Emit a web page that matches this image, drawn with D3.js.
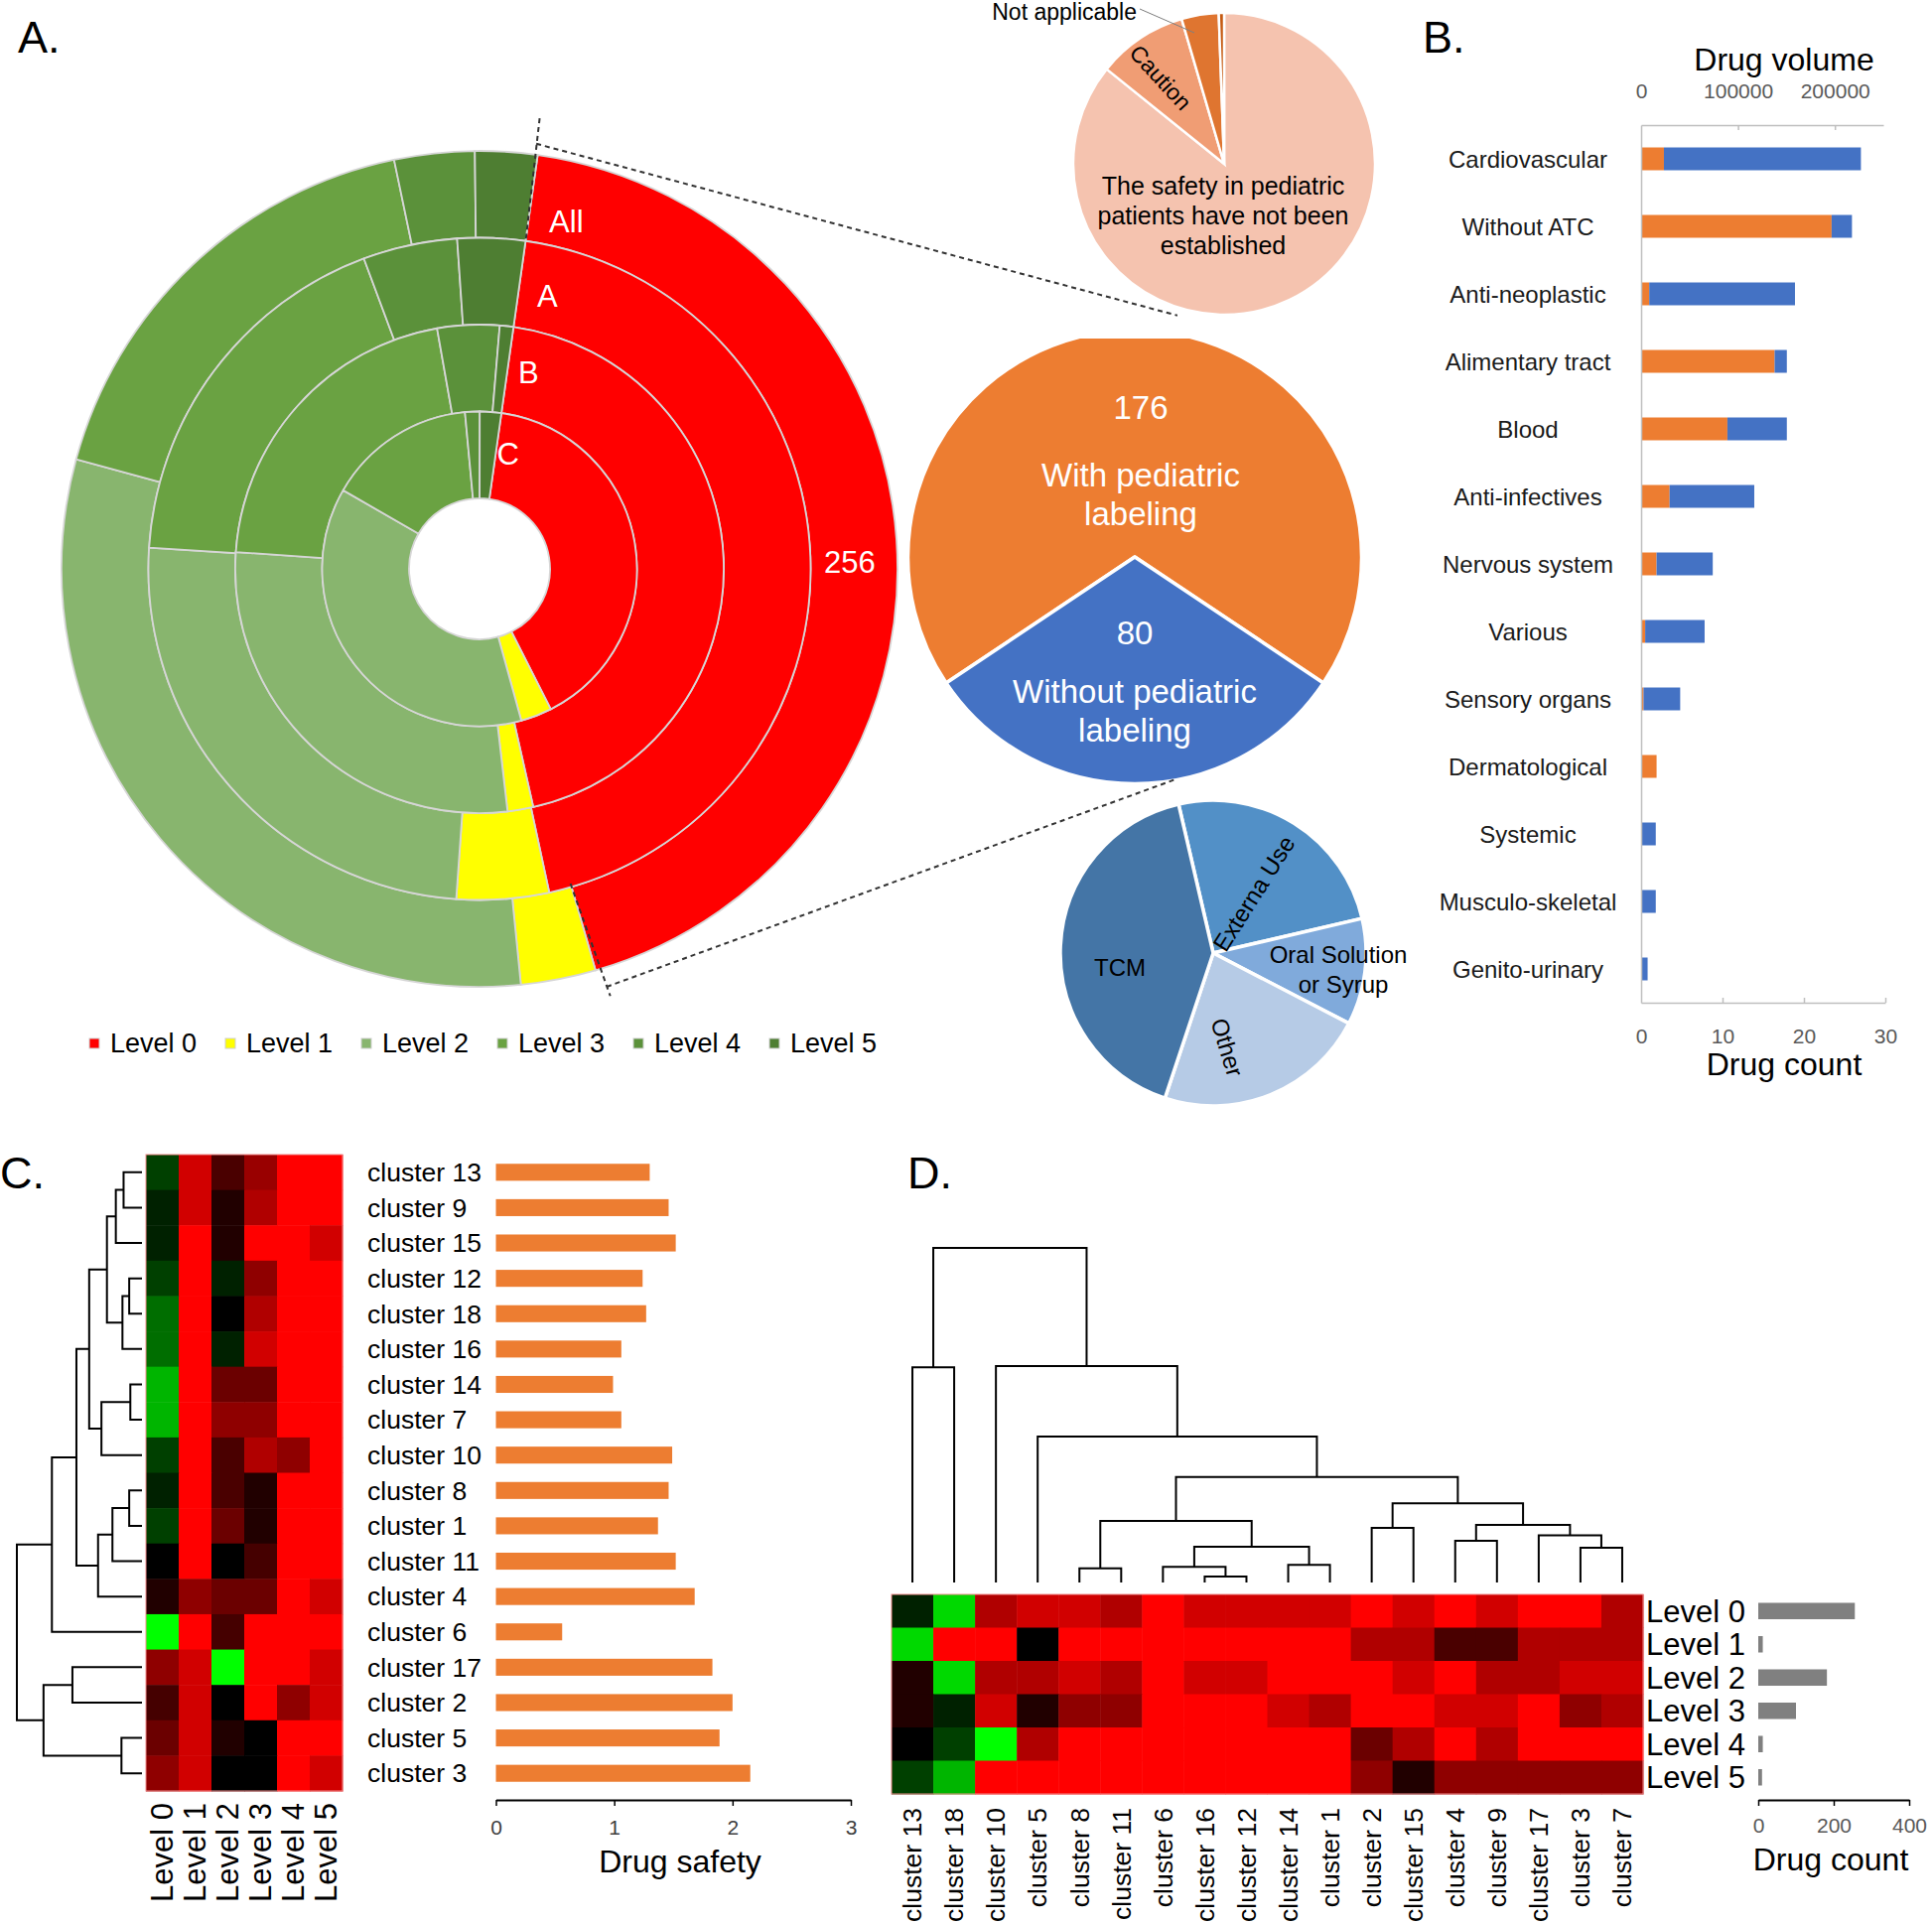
<!DOCTYPE html>
<html><head><meta charset="utf-8">
<script src="https://cdn.jsdelivr.net/npm/d3@7"></script>
<style>
html,body{margin:0;padding:0;background:#fff;}
svg{display:block;font-family:"Liberation Sans",Arial,sans-serif;}
</style></head><body>
<svg id="chart" width="1946" height="1938"></svg>
<script>
// ---------------- DATA ----------------
const levels = ["Level 0","Level 1","Level 2","Level 3","Level 4","Level 5"];
const levelColors = ["#FF0000","#FFFF00","#88B56E","#6AA242","#5B913A","#4E7E32"];
// Sunburst rings (share of drugs per level, %)
const ringNames = ["All","A","B","C"];
const ringAll = [43.3, 2.9, 30.8, 17.5, 3.1, 2.4];
const ringA   = [44.4, 4.5, 24.9, 18.3, 4.6, 3.3];
const ringB   = [44.2, 1.7, 27.9, 21.1, 4.1, 0.9];
const ringC   = [40.3, 3.2, 37.6, 15.2, 1.5, 2.2];
const level0Total = 256;

// Pediatric labeling pie
const labelingNames = ["With pediatric labeling","Without pediatric labeling"];
const labelingValues = [176, 80];
const labelingColors = ["#ED7D31","#4472C4"];

// Safety statement pie (drugs with pediatric labeling)
const safetyNames = ["The safety in pediatric patients have not been established","Caution","Not applicable","Other"];
const safetyValues = [151, 17, 7, 1];
const safetyColors = ["#F5C3AF","#F09D74","#DF7530","#C55A11"];

// Dosage form pie (drugs without pediatric labeling)
const formNames = ["Externa Use","Oral Solution or Syrup","Other","TCM"];
const formValues = [20, 9, 18, 33];
const formColors = ["#5290C7","#80AADB","#B6CBE6","#4475A6"];

// Panel B
const atcCategories = ["Cardiovascular","Without ATC","Anti-neoplastic","Alimentary tract","Blood","Anti-infectives","Nervous system","Various","Sensory organs","Dermatological","Systemic","Musculo-skeletal","Genito-urinary"];
const atcOrange = [2.8, 23.4, 1.0, 16.4, 10.6, 3.5, 1.9, 0.5, 0.3, 1.9, 0, 0, 0];
const atcBlue   = [24.2, 2.5, 17.9, 1.5, 7.3, 10.4, 6.9, 7.3, 4.5, 0, 1.8, 1.8, 0.8];
const volumeTicks = [0, 100000, 200000];
const countTicks = [0, 10, 20, 30];

// Panel C
const clustersC = ["cluster 13","cluster 9","cluster 15","cluster 12","cluster 18","cluster 16","cluster 14","cluster 7","cluster 10","cluster 8","cluster 1","cluster 11","cluster 4","cluster 6","cluster 17","cluster 2","cluster 5","cluster 3"];
const heatC = [
 [-0.25,0.82,0.29,0.60,1,1],
 [-0.13,0.82,0.13,0.69,1,1],
 [-0.13,1,0.13,1,1,0.82],
 [-0.25,1,-0.13,0.56,1,1],
 [-0.43,1,0,0.69,1,1],
 [-0.43,1,-0.13,0.82,1,1],
 [-0.71,1,0.42,0.42,1,1],
 [-0.71,1,0.56,0.56,1,1],
 [-0.25,1,0.29,0.69,0.56,1],
 [-0.13,1,0.29,0.13,1,1],
 [-0.25,1,0.42,0.13,1,1],
 [0,1,0,0.27,1,1],
 [0.13,0.56,0.42,0.42,1,0.82],
 [-1,1,0.27,1,1,1],
 [0.56,0.82,-1,1,1,0.82],
 [0.27,0.82,0,1,0.56,0.82],
 [0.42,0.82,0.13,0,1,1],
 [0.56,0.82,0,0,1,0.82]
];
const safetyC = [1.30,1.46,1.52,1.24,1.27,1.06,0.99,1.06,1.49,1.46,1.37,1.52,1.68,0.56,1.83,2.00,1.89,2.15];
const safetyTicks = [0,1,2,3];
// merges: [left, right, height]; negative = leaf (1-based), positive = earlier merge (1-based)
const mergesC = [
 [-1,-2,1.47],[1,-3,2.09],[-4,-5,1.02],[3,-6,1.56],[2,4,2.8],
 [-7,-8,0.93],[6,-9,3.24],[5,7,4.22],[-10,-11,1.02],[9,-12,2.36],
 [10,-13,3.51],[8,11,5.24],[12,-14,7.2],[-15,-16,5.56],[-17,-18,1.64],
 [14,15,7.87],[13,16,10]
];

// Panel D
const clustersD = ["cluster 13","cluster 18","cluster 10","cluster 5","cluster 8","cluster 11","cluster 6","cluster 16","cluster 12","cluster 14","cluster 1","cluster 2","cluster 15","cluster 4","cluster 9","cluster 17","cluster 3","cluster 7"];
const heatD = [
 [-0.13,-0.85,0.69,0.82,0.82,0.69,1,0.82,0.82,0.82,0.82,1,0.82,1,0.82,1,1,0.69],
 [-0.85,1,1,0,1,1,1,1,1,1,1,0.69,0.69,0.29,0.29,0.69,0.69,0.69],
 [0.13,-0.85,0.69,0.69,0.82,0.69,1,0.82,0.82,1,1,1,0.82,1,0.69,0.69,0.82,0.82],
 [0.13,-0.13,0.82,0.13,0.56,0.56,1,1,1,0.82,0.69,1,1,0.82,0.82,1,0.56,0.69],
 [0,-0.25,-1,0.69,1,1,1,1,1,1,1,0.42,0.69,1,0.69,1,1,1],
 [-0.25,-0.71,1,1,1,1,1,1,1,1,1,0.56,0.13,0.56,0.56,0.56,0.56,0.56]
];
const drugCountD = [256, 12, 182, 100, 12, 10];
const drugCountTicks = [0,200,400];
const mergesD = [
 [-1,-2,6.43],[-5,-6,0.42],[-8,-9,0.18],[-7,3,0.47],[-10,-11,0.53],
 [4,5,1.07],[2,6,1.84],[-12,-13,1.63],[-14,-15,1.25],[-17,-18,1.04],
 [-16,10,1.41],[9,11,1.72],[8,12,2.37],[7,13,3.15],[-4,14,4.36],
 [-3,15,6.47],[1,16,10]
];

// ---------------- DRAW ----------------
const svg = d3.select("#chart");
const rad = d => d * Math.PI / 180;
const polar = (cx, cy, r, deg) => [cx + r * Math.sin(rad(deg)), cy - r * Math.cos(rad(deg))];
const FONT = "Liberation Sans, Arial, sans-serif";
const intFmt = d3.format("d");

// panel letters
[["A.",18,53],["B.",1433,53],["C.",0,1197],["D.",914,1197]].forEach(([t,x,y]) => {
  svg.append("text").attr("x",x).attr("y",y).attr("font-size",45).attr("fill","#000").text(t);
});

// ---- Sunburst ----
const sbCx = 483, sbCy = 573, hole = 71, ringW = 87.5, sbStart = 8;
const rings = [ringAll, ringA, ringB, ringC];
const ringPie = d3.pie().sort(null).startAngle(rad(sbStart)).endAngle(rad(sbStart + 360));
const gSb = svg.append("g").attr("transform", `translate(${sbCx},${sbCy})`);
rings.forEach((vals, i) => {
  const inner = hole + (3 - i) * ringW;
  const arc = d3.arc().innerRadius(inner).outerRadius(inner + ringW);
  gSb.selectAll(null).data(ringPie(vals)).enter().append("path")
    .attr("d", arc).attr("fill", (d, j) => levelColors[j])
    .attr("stroke", "#d6d6d6").attr("stroke-width", 1.8);
});
// ring labels
const ringLabelR = [361, 283, 204, 119];
ringNames.forEach((n, i) => {
  const [x, y] = polar(sbCx, sbCy, ringLabelR[i], 14);
  svg.append("text").attr("x", x).attr("y", y).attr("dy", "0.35em").attr("text-anchor", "middle")
    .attr("font-size", 31).attr("fill", "#fff").text(n);
});
{
  const [x, y] = polar(sbCx, sbCy, 373, 89);
  svg.append("text").attr("x", x).attr("y", y).attr("dy", "0.35em").attr("text-anchor", "middle")
    .attr("font-size", 31).attr("fill", "#fff").text(level0Total);
}
// level 0 wedge boundaries (for connector lines)
const l0Start = sbStart, l0End = sbStart + ringAll[0] / d3.sum(ringAll) * 360;

// legend
const gLeg = svg.append("g");
levels.forEach((l, i) => {
  const x = 95 + i * 137;
  gLeg.append("rect").attr("x", x - 5).attr("y", 1046).attr("width", 10).attr("height", 10)
    .attr("fill", levelColors[i]).attr("stroke", "#d0d0d0").attr("stroke-width", 1);
  gLeg.append("text").attr("x", x + 16).attr("y", 1060).attr("font-size", 27).attr("fill", "#000").text(l);
});

// ---- Big labeling pie ----
const bpCx = 1143, bpCy = 561, bpR = 228.5;
const blueShare = labelingValues[1] / d3.sum(labelingValues) * 360;
const bpStart = 180 + blueShare / 2 - 360;
svg.append("defs").append("clipPath").attr("id", "bpclip").append("rect")
  .attr("x", 880).attr("y", 341).attr("width", 560).attr("height", 500);
const bpPie = d3.pie().sort(null).startAngle(rad(bpStart)).endAngle(rad(bpStart + 360));
const gBp = svg.append("g").attr("clip-path", "url(#bpclip)")
  .append("g").attr("transform", `translate(${bpCx},${bpCy})`);
gBp.selectAll(null).data(bpPie(labelingValues)).enter().append("path")
  .attr("d", d3.arc().innerRadius(0).outerRadius(bpR))
  .attr("fill", (d, i) => labelingColors[i]).attr("stroke", "#fff").attr("stroke-width", 3.5)
  .attr("stroke-linejoin", "round");
const bpText = [
  [labelingValues[0], 1149, 410], ["With pediatric", 1149, 478], ["labeling", 1149, 517],
  [labelingValues[1], 1143, 637], ["Without pediatric", 1143, 696], ["labeling", 1143, 735]
];
bpText.forEach(([t, x, y]) => {
  svg.append("text").attr("x", x).attr("y", y).attr("dy", "0.35em").attr("text-anchor", "middle")
    .attr("font-size", 33).attr("fill", "#fff").text(t);
});

// ---- Safety pie ----
const spCx = 1233, spCy = 165, spR = 152;
const spPie = d3.pie().sort(null).startAngle(0).endAngle(2 * Math.PI);
const gSp = svg.append("g").attr("transform", `translate(${spCx},${spCy})`);
gSp.selectAll(null).data(spPie(safetyValues)).enter().append("path")
  .attr("d", d3.arc().innerRadius(0).outerRadius(spR))
  .attr("fill", (d, i) => safetyColors[i]).attr("stroke", "#fff").attr("stroke-width", 2.5);
["The safety in pediatric", "patients have not been", "established"].forEach((t, i) => {
  svg.append("text").attr("x", 1232).attr("y", 187 + i * 30).attr("dy", "0.35em").attr("text-anchor", "middle")
    .attr("font-size", 25).attr("fill", "#000").text(t);
});
svg.append("text").attr("transform", "translate(1169,78) rotate(47.5)").attr("dy", "0.35em")
  .attr("text-anchor", "middle").attr("font-size", 23).attr("fill", "#000").text(safetyNames[1]);
svg.append("line").attr("x1", 1148).attr("y1", 9).attr("x2", 1203).attr("y2", 33)
  .attr("stroke", "#7f7f7f").attr("stroke-width", 1);
svg.append("text").attr("x", 1145).attr("y", 20).attr("text-anchor", "end")
  .attr("font-size", 23).attr("fill", "#000").text(safetyNames[2]);

// ---- Dosage form pie ----
const fpCx = 1222, fpCy = 960, fpR = 154, fpStart = -13.1;
const fpPie = d3.pie().sort(null).startAngle(rad(fpStart)).endAngle(rad(fpStart + 360));
const gFp = svg.append("g").attr("transform", `translate(${fpCx},${fpCy})`);
gFp.selectAll(null).data(fpPie(formValues)).enter().append("path")
  .attr("d", d3.arc().innerRadius(0).outerRadius(fpR))
  .attr("fill", (d, i) => formColors[i]).attr("stroke", "#fff").attr("stroke-width", 3.5);
const fpFont = 24;
svg.append("text").attr("transform", "translate(1263,900) rotate(-57.7)").attr("dy", "0.35em")
  .attr("text-anchor", "middle").attr("font-size", fpFont).text(formNames[0]);
svg.append("text").attr("x", 1348).attr("y", 962).attr("dy", "0.35em").attr("text-anchor", "middle")
  .attr("font-size", fpFont).text("Oral Solution");
svg.append("text").attr("x", 1353).attr("y", 992).attr("dy", "0.35em").attr("text-anchor", "middle")
  .attr("font-size", fpFont).text("or Syrup");
svg.append("text").attr("transform", "translate(1236,1055) rotate(73)").attr("dy", "0.35em")
  .attr("text-anchor", "middle").attr("font-size", fpFont).text(formNames[2]);
svg.append("text").attr("x", 1128).attr("y", 975).attr("dy", "0.35em").attr("text-anchor", "middle")
  .attr("font-size", fpFont).text(formNames[3]);

// ---- connector dashed lines ----
function dline(p1, p2) {
  svg.append("line").attr("x1", p1[0]).attr("y1", p1[1]).attr("x2", p2[0]).attr("y2", p2[1])
    .attr("stroke", "#333").attr("stroke-width", 2).attr("stroke-dasharray", "5,4");
}
dline(polar(sbCx, sbCy, 336, l0Start), polar(sbCx, sbCy, 458, l0Start - 0.4));
dline(polar(sbCx, sbCy, 432, l0Start - 0.4), polar(bpCx, bpCy, 247, 10));
dline(polar(sbCx, sbCy, 330, l0End), polar(sbCx, sbCy, 450, l0End - 0.9));
dline(polar(sbCx, sbCy, 440, l0End - 0.8), polar(bpCx, bpCy, 228, 170));

// ---- Panel B ----
const xCount = d3.scaleLinear().domain([0, 30]).range([1653, 1899]);
const xVol = d3.scaleLinear().domain([0, 250000]).range([1653, 1897]);
const yB = d3.scaleBand().domain(atcCategories).range([126, 1010]).paddingInner(0.662).paddingOuter(0.331);
const gB = svg.append("g");
atcCategories.forEach((c, i) => {
  const y = yB(c), h = yB.bandwidth();
  if (atcOrange[i] > 0)
    gB.append("rect").attr("x", xCount(0)).attr("y", y).attr("width", xCount(atcOrange[i]) - xCount(0)).attr("height", h).attr("fill", "#ED7D31");
  if (atcBlue[i] > 0)
    gB.append("rect").attr("x", xCount(atcOrange[i])).attr("y", y).attr("width", xCount(atcOrange[i] + atcBlue[i]) - xCount(atcOrange[i])).attr("height", h).attr("fill", "#4472C4");
  gB.append("text").attr("x", 1539).attr("y", y + h / 2 + 1).attr("dy", "0.35em").attr("text-anchor", "middle")
    .attr("font-size", 24).attr("fill", "#1a1a1a").text(c);
});
const axTop = svg.append("g").attr("transform", "translate(0,126)")
  .call(d3.axisTop(xVol).tickValues(volumeTicks).tickFormat(intFmt).tickSize(-5).tickSizeOuter(0).tickPadding(27));
const axBot = svg.append("g").attr("transform", "translate(0,1010)")
  .call(d3.axisBottom(xCount).tickValues(countTicks).tickFormat(intFmt).tickSize(-5).tickSizeOuter(0).tickPadding(26));
const axLeftB = svg.append("g").attr("transform", "translate(1653,0)")
  .call(d3.axisLeft(yB).tickSize(0).tickFormat(""));
[axTop, axBot, axLeftB].forEach(a => {
  a.selectAll("path.domain").attr("stroke", "#bfbfbf").attr("stroke-width", 1.5);
  a.selectAll(".tick line").attr("stroke", "#bfbfbf").attr("stroke-width", 1.5);
  a.selectAll(".tick text").attr("font-size", 21).attr("fill", "#595959").attr("font-family", FONT);
});
axTop.selectAll(".tick").filter(d => d === 0).select("line").remove();
axBot.selectAll(".tick").filter(d => d === 0).select("line").remove();
svg.append("text").attr("x", 1797).attr("y", 71).attr("text-anchor", "middle").attr("font-size", 32).text("Drug volume");
svg.append("text").attr("x", 1797).attr("y", 1083).attr("text-anchor", "middle").attr("font-size", 32).text("Drug count");

// ---- heat colour ----
const heatColor = d3.scaleLinear().domain([-1, 0, 1]).range(["#00ff00", "#000000", "#ff0000"]).clamp(true);

// dendrogram helper
function dendrogram(g, merges, leafPos, hScale, horizontal) {
  const pos = [], hts = [];
  const info = r => r < 0 ? { p: leafPos(-r - 1), h: 0 } : { p: pos[r - 1], h: hts[r - 1] };
  const pt = (p, h) => horizontal ? [hScale(h), p] : [p, hScale(h)];
  merges.forEach((m, k) => {
    const a = info(m[0]), b = info(m[1]), h = m[2];
    pos[k] = (a.p + b.p) / 2; hts[k] = h;
    const path = d3.path();
    path.moveTo(...pt(a.p, a.h)); path.lineTo(...pt(a.p, h));
    path.lineTo(...pt(b.p, h)); path.lineTo(...pt(b.p, b.h));
    g.append("path").attr("d", path.toString()).attr("fill", "none")
      .attr("stroke", "#000").attr("stroke-width", 2);
  });
}

// ---- Panel C ----
const rowC = d3.scaleBand().domain(clustersC).range([1163, 1804]);
const colC = d3.scaleBand().domain(levels).range([147, 345]);
const gC = svg.append("g");
heatC.forEach((row, i) => row.forEach((v, j) => {
  gC.append("rect").attr("x", colC(levels[j])).attr("y", rowC(clustersC[i]))
    .attr("width", colC.bandwidth() + 0.5).attr("height", rowC.bandwidth() + 0.5).attr("fill", heatColor(v));
}));
gC.append("rect").attr("x", 147).attr("y", 1163).attr("width", 198).attr("height", 641)
  .attr("fill", "none").attr("stroke", "#f28c8c").attr("stroke-width", 1);
dendrogram(gC, mergesC, i => rowC(clustersC[i]) + rowC.bandwidth() / 2,
  d3.scaleLinear().domain([0, 10]).range([143, 17]), true);
levels.forEach(l => {
  gC.append("text").attr("transform", `translate(${colC(l) + colC.bandwidth() / 2},1816) rotate(-90)`)
    .attr("dy", "0.35em").attr("text-anchor", "end").attr("font-size", 31).text(l);
});
const yBarC = d3.scaleBand().domain(clustersC).range([1163, 1804]).paddingInner(0.52).paddingOuter(0.26);
const xC = d3.scaleLinear().domain([0, 3]).range([499.5, 857]);
clustersC.forEach((c, i) => {
  gC.append("rect").attr("x", xC(0)).attr("y", yBarC(c)).attr("width", xC(safetyC[i]) - xC(0))
    .attr("height", yBarC.bandwidth()).attr("fill", "#ED7D31");
  gC.append("text").attr("x", 370).attr("y", rowC(c) + rowC.bandwidth() / 2).attr("dy", "0.35em")
    .attr("font-size", 26.5).text(c);
});
const axC = svg.append("g").attr("transform", "translate(0,1813)")
  .call(d3.axisBottom(xC).tickValues(safetyTicks).tickFormat(intFmt).tickSize(6).tickSizeOuter(0).tickPadding(14));
axC.selectAll("path.domain").attr("stroke", "#000").attr("stroke-width", 2);
axC.selectAll(".tick line").attr("stroke", "#000").attr("stroke-width", 1.5);
axC.selectAll(".tick text").attr("font-size", 21).attr("fill", "#404040").attr("font-family", FONT);
svg.append("text").attr("x", 685).attr("y", 1886).attr("text-anchor", "middle").attr("font-size", 32).text("Drug safety");

// ---- Panel D ----
const colD = d3.scaleBand().domain(clustersD).range([898, 1655]);
const rowD = d3.scaleBand().domain(levels).range([1606, 1807]);
const gD = svg.append("g");
heatD.forEach((row, i) => row.forEach((v, j) => {
  gD.append("rect").attr("x", colD(clustersD[j])).attr("y", rowD(levels[i]))
    .attr("width", colD.bandwidth() + 0.5).attr("height", rowD.bandwidth() + 0.5).attr("fill", heatColor(v));
}));
gD.append("rect").attr("x", 898).attr("y", 1606).attr("width", 757).attr("height", 201)
  .attr("fill", "none").attr("stroke", "#f28c8c").attr("stroke-width", 1);
dendrogram(gD, mergesD, i => colD(clustersD[i]) + colD.bandwidth() / 2,
  d3.scaleLinear().domain([0, 10]).range([1594, 1257]), false);
clustersD.forEach(c => {
  gD.append("text").attr("transform", `translate(${colD(c) + colD.bandwidth() / 2},1821) rotate(-90)`)
    .attr("dy", "0.35em").attr("text-anchor", "end").attr("font-size", 26.5).text(c);
});
const yBarD = d3.scaleBand().domain(levels).range([1606, 1807]).paddingInner(0.507).paddingOuter(0.2535);
const xD = d3.scaleLinear().domain([0, 400]).range([1771, 1923]);
levels.forEach((l, i) => {
  gD.append("text").attr("x", 1658).attr("y", rowD(l) + rowD.bandwidth() / 2).attr("dy", "0.35em")
    .attr("font-size", 31).text(l);
  gD.append("rect").attr("x", xD(0)).attr("y", yBarD(l)).attr("width", xD(drugCountD[i]) - xD(0))
    .attr("height", yBarD.bandwidth()).attr("fill", "#808080");
});
const axD = svg.append("g").attr("transform", "translate(0,1813)")
  .call(d3.axisBottom(xD).tickValues(drugCountTicks).tickFormat(intFmt).tickSize(6).tickSizeOuter(0).tickPadding(12));
axD.selectAll("path.domain").attr("stroke", "#000").attr("stroke-width", 2);
axD.selectAll(".tick line").attr("stroke", "#000").attr("stroke-width", 1.5);
axD.selectAll(".tick text").attr("font-size", 21).attr("fill", "#595959").attr("font-family", FONT);
svg.append("text").attr("x", 1844).attr("y", 1884).attr("text-anchor", "middle").attr("font-size", 32).text("Drug count");
</script>
</body></html>
